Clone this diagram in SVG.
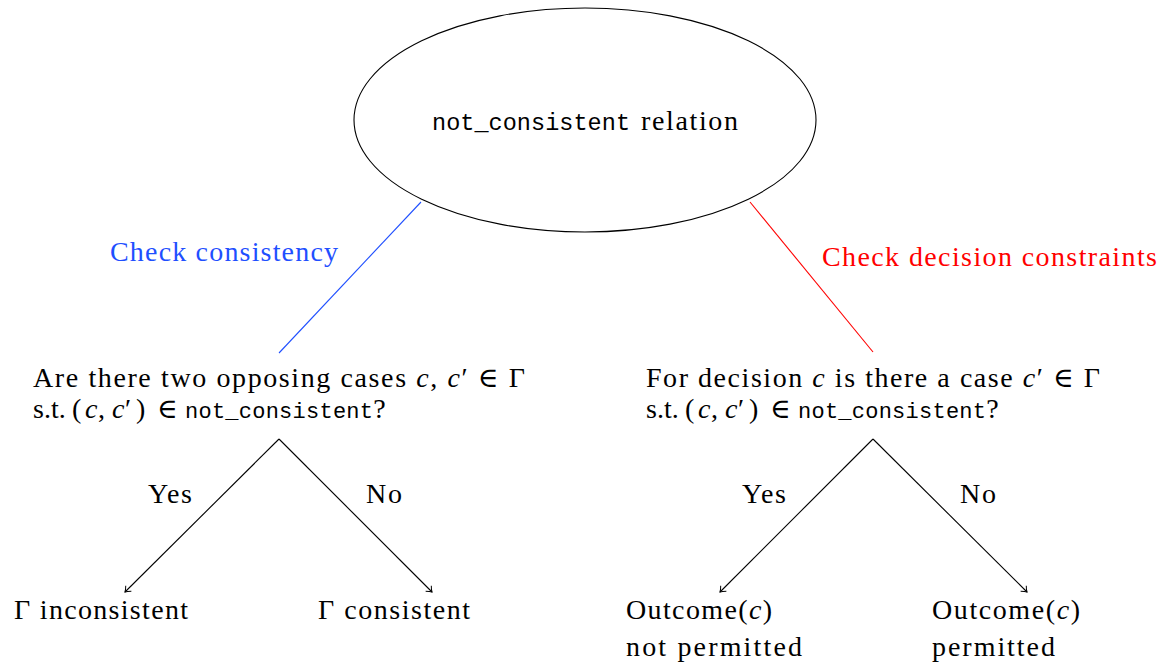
<svg xmlns="http://www.w3.org/2000/svg" width="1170" height="666" viewBox="0 0 1170 666">
  <style>
    .t { font-family: "Liberation Serif", "DejaVu Serif", serif; font-size: 28px; fill: #000; }
    .m { font-family: "Liberation Mono", "DejaVu Sans Mono", monospace; font-size: 22px; }
    .i { font-style: italic; }
    .edge { stroke: #000; stroke-width: 1.1; fill: none; }
    .arrow { marker-end: url(#tip); }
  </style>
  <defs>
    <marker id="tip" viewBox="-6 -5 8 10" refX="0" refY="0" markerWidth="8" markerHeight="10" markerUnits="userSpaceOnUse" orient="auto">
      <path d="M-5,-4 Q-2,-1 0,0 Q-2,1 -5,4" fill="none" stroke="#000" stroke-width="1"/>
    </marker>
  </defs>

  <!-- root relation node -->
  <g id="root">
    <ellipse cx="585" cy="120" rx="231" ry="112" fill="none" stroke="#000" stroke-width="1.1"/>
    <text class="t" x="432" y="130"><tspan class="m" style="font-size:23.5px" textLength="198" lengthAdjust="spacing">not_consistent</tspan><tspan x="641" textLength="97" lengthAdjust="spacing">relation</tspan></text>
  </g>

  <!-- question nodes -->
  <g id="q-consistency">
    <text class="t" x="33" y="387" textLength="492" lengthAdjust="spacing">Are there two opposing cases <tspan class="i">c</tspan>, <tspan class="i">c</tspan>′ ∈ Γ</text>
    <text class="t" x="33" y="418">s.t.<tspan x="72">(</tspan><tspan class="i" x="85">c</tspan><tspan x="98">,</tspan><tspan class="i" x="112">c</tspan><tspan x="125">′</tspan><tspan x="136">)</tspan><tspan x="157">∈</tspan><tspan class="m" x="185" textLength="188" lengthAdjust="spacing">not_consistent</tspan>?</text>
  </g>
  <g id="q-decision">
    <text class="t" x="646" y="387" textLength="454" lengthAdjust="spacing">For decision <tspan class="i">c</tspan> is there a case <tspan class="i">c</tspan>′ ∈ Γ</text>
    <text class="t" x="646" y="418">s.t.<tspan x="685">(</tspan><tspan class="i" x="698">c</tspan><tspan x="711">,</tspan><tspan class="i" x="725">c</tspan><tspan x="738">′</tspan><tspan x="749">)</tspan><tspan x="770">∈</tspan><tspan class="m" x="798" textLength="188" lengthAdjust="spacing">not_consistent</tspan>?</text>
  </g>

  <!-- outcome nodes -->
  <g id="inconsistent">
    <text class="t" x="14" y="619" textLength="174" lengthAdjust="spacing">Γ inconsistent</text>
  </g>
  <g id="consistent">
    <text class="t" x="318" y="619" textLength="152" lengthAdjust="spacing">Γ consistent</text>
  </g>
  <g id="not-permitted">
    <text class="t" x="626" y="619" textLength="146" lengthAdjust="spacing">Outcome(<tspan class="i">c</tspan>)</text>
    <text class="t" x="626" y="656" textLength="176" lengthAdjust="spacing">not permitted</text>
  </g>
  <g id="permitted">
    <text class="t" x="932" y="619" textLength="148" lengthAdjust="spacing">Outcome(<tspan class="i">c</tspan>)</text>
    <text class="t" x="932" y="656" textLength="123" lengthAdjust="spacing">permitted</text>
  </g>

  <!-- connectors -->
  <g id="connectors">
    <line x1="421" y1="202" x2="279" y2="353" stroke="#1f4fff" stroke-width="1.1"/>
    <line x1="750" y1="202" x2="873" y2="352" stroke="#ff0000" stroke-width="1.1"/>
    <text class="t" x="110" y="261" textLength="228" lengthAdjust="spacing" style="fill:#1f4fff">Check consistency</text>
    <text class="t" x="822" y="266" textLength="335" lengthAdjust="spacing" style="fill:#ff0000">Check decision constraints</text>

    <polyline class="edge arrow" points="279,439 125,592"/>
    <polyline class="edge arrow" points="279,439 432,592"/>
    <polyline class="edge arrow" points="873,439 720,592"/>
    <polyline class="edge arrow" points="873,439 1027,592"/>
    <text class="t" x="148" y="503" textLength="44" lengthAdjust="spacing">Yes</text>
    <text class="t" x="366" y="503" textLength="36" lengthAdjust="spacing">No</text>
    <text class="t" x="742" y="503" textLength="44" lengthAdjust="spacing">Yes</text>
    <text class="t" x="960" y="503" textLength="36" lengthAdjust="spacing">No</text>
  </g>
</svg>
